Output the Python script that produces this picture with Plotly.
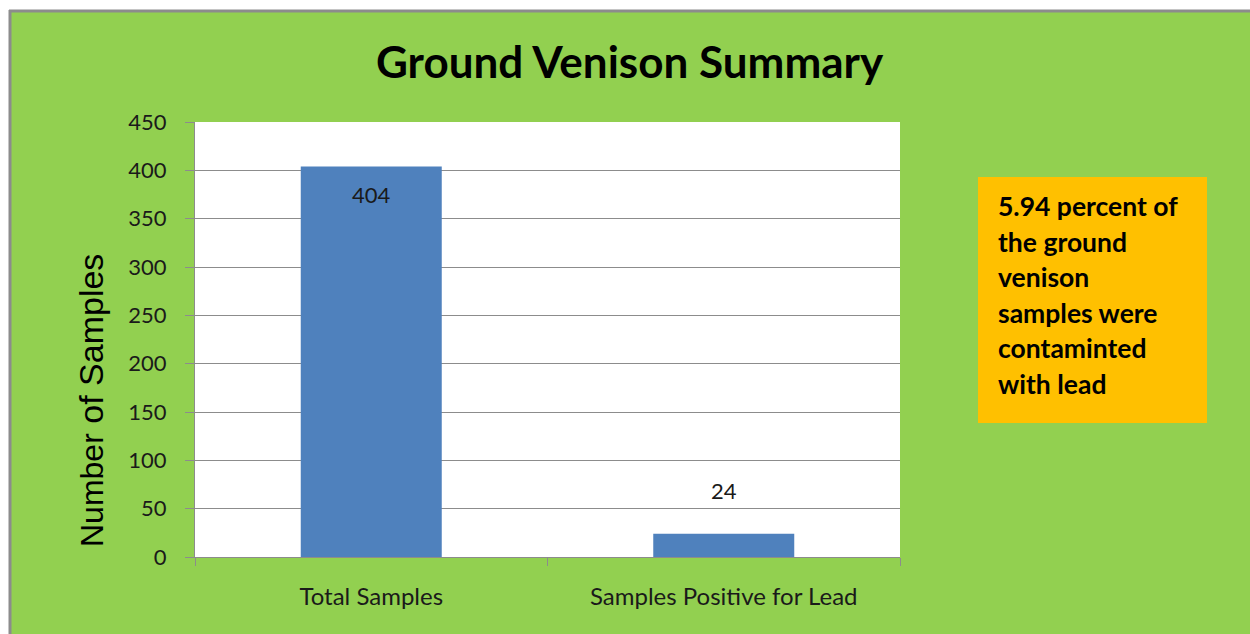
import plotly.graph_objects as go

categories = ["Total Samples", "Samples Positive for Lead"]
values = [404, 24]
y_ticks = [0, 50, 100, 150, 200, 250, 300, 350, 400, 450]
title_text = "Ground Venison Summary"
box_lines = ["5.94 percent of", "the ground", "venison", "samples were", "contaminted", "with lead"]

W, H = 1250, 634
L, R, T, B = 195, 900, 122, 557
GREEN = "#92D050"
FONT = "Lato"

def xp(px):
    return (px - L) / (R - L)

def yp(py):
    return (B - py) / (B - T)

fig = go.Figure()
fig.add_trace(go.Bar(
    x=categories, y=values, width=0.4,
    marker=dict(color="#4F81BD", line=dict(width=0)),
    hoverinfo="x+y",
))

annotations = []
# value labels: first inside near top, second above bar
for i, (c, v) in enumerate(zip(categories, values)):
    if i == 0:
        annotations.append(dict(x=c, y=v, xref="x", yref="y", text=str(v), showarrow=False,
                                yanchor="top", yshift=-13, font=dict(family=FONT, size=22, color="#1a1a1a")))
    else:
        annotations.append(dict(x=c, y=v, xref="x", yref="y", text=str(v), showarrow=False,
                                yanchor="bottom", yshift=28, font=dict(family=FONT, size=22, color="#1a1a1a")))

# title
annotations.append(dict(x=xp(630), y=yp(61), xref="paper", yref="paper", text="<b>" + title_text + "</b>",
                        showarrow=False, xanchor="center", yanchor="middle",
                        font=dict(family=FONT, size=44, color="#000000")))
# y-axis title
annotations.append(dict(x=xp(91), y=yp(401), xref="paper", yref="paper",
                        text="<span style='font-size:32px'>Number</span> of Samples",
                        textangle=-90, showarrow=False, xanchor="center", yanchor="middle",
                        font=dict(family="Liberation Sans", size=34, color="#000000")))
# box text lines
for k, line in enumerate(box_lines):
    annotations.append(dict(x=xp(996), y=yp(206 + 35.6 * k), xref="paper", yref="paper",
                            text="<b>" + line + "</b>", showarrow=False, xanchor="left", yanchor="middle",
                            font=dict(family=FONT, size=26.5, color="#000000")))

shapes = [
    # white strips outside the frame
    dict(type="rect", xref="paper", yref="paper", x0=xp(-5), x1=xp(9), y0=yp(H + 5), y1=yp(-5),
         fillcolor="white", line=dict(width=0), layer="below"),
    dict(type="rect", xref="paper", yref="paper", x0=xp(-5), x1=xp(W + 5), y0=yp(10), y1=yp(-5),
         fillcolor="white", line=dict(width=0), layer="below"),
    # gray frame lines (left & top)
    dict(type="line", xref="paper", yref="paper", x0=xp(10), x1=xp(10), y0=yp(H + 5), y1=yp(10),
         line=dict(color="#8c8c8c", width=3)),
    dict(type="line", xref="paper", yref="paper", x0=xp(9), x1=xp(W + 5), y0=yp(11), y1=yp(11),
         line=dict(color="#8c8c8c", width=3)),
    # orange box
    dict(type="rect", xref="paper", yref="paper", x0=xp(978), x1=xp(1207), y0=yp(423), y1=yp(177),
         fillcolor="#FFC000", line=dict(width=0)),
]

fig.update_layout(
    width=W, height=H,
    margin=dict(l=L, r=W - R, t=T, b=H - B),
    paper_bgcolor=GREEN, plot_bgcolor="white",
    showlegend=False,
    bargap=0.6,
    annotations=annotations,
    shapes=shapes,
    xaxis=dict(
        tickson="boundaries", ticks="outside", ticklen=8, tickcolor="#8c8c8c", tickwidth=1,
        showline=True, linecolor="#8c8c8c", linewidth=1, showgrid=False,
        tickfont=dict(family=FONT, size=24, color="#1a1a1a"), ticklabelstandoff=18,
    ),
    yaxis=dict(
        range=[0, 450], tickvals=y_ticks, ticktext=[str(t) for t in y_ticks],
        ticks="outside", ticklen=9, tickcolor="#8c8c8c", tickwidth=1,
        showline=True, linecolor="#8c8c8c", linewidth=1,
        showgrid=True, gridcolor="#8c8c8c", gridwidth=1, zeroline=False,
        tickfont=dict(family=FONT, size=22, color="#1a1a1a"), ticklabelstandoff=14,
    ),
)

fig.write_html("out.html", config={"displayModeBar": False},
               post_script="document.body.style.margin='0';document.body.style.overflow='hidden';")
